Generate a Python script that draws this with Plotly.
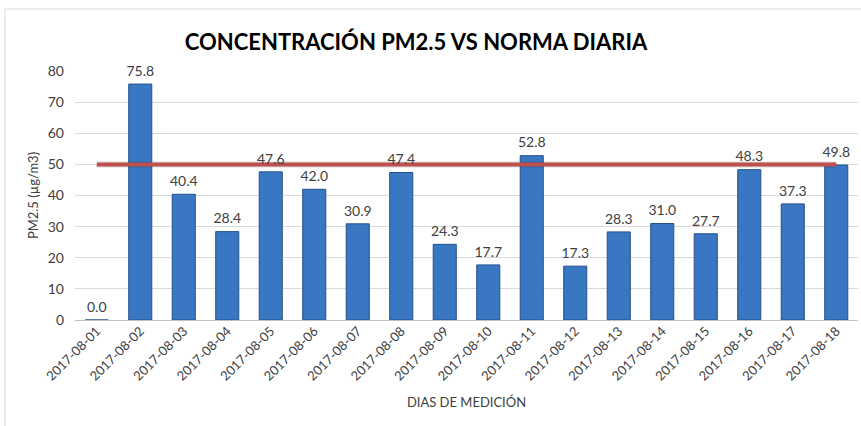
import plotly.graph_objects as go

dias = ["2017-08-01", "2017-08-02", "2017-08-03", "2017-08-04", "2017-08-05", "2017-08-06",
        "2017-08-07", "2017-08-08", "2017-08-09", "2017-08-10", "2017-08-11", "2017-08-12",
        "2017-08-13", "2017-08-14", "2017-08-15", "2017-08-16", "2017-08-17", "2017-08-18"]
pm25 = [0.0, 75.8, 40.4, 28.4, 47.6, 42.0, 30.9, 47.4, 24.3, 17.7, 52.8, 17.3,
        28.3, 31.0, 27.7, 48.3, 37.3, 49.8]
norma = [50] * len(dias)
y_ticks = [0, 10, 20, 30, 40, 50, 60, 70, 80]

FONT = "Lato, Open Sans, sans-serif"

fig = go.Figure()
fig.add_trace(go.Bar(
    x=dias, y=pm25,
    marker=dict(color="#3A77C3", line=dict(color="#23508C", width=1)),
    width=0.53, showlegend=False, hoverinfo="x+y",
))
# shadow of norm line
fig.add_trace(go.Scatter(
    x=dias, y=norma, mode="lines",
    line=dict(color="rgba(0,0,0,0.15)", width=6),
    hoverinfo="skip", showlegend=False,
))
fig.add_trace(go.Scatter(
    x=dias, y=norma, mode="lines",
    line=dict(color="#C0504D", width=4),
    showlegend=False, name="Norma",
))
# data labels on top
fig.add_trace(go.Scatter(
    x=dias, y=pm25, mode="markers+text",
    text=[f"{v:.1f}" for v in pm25], textposition="top center",
    marker=dict(size=6, opacity=0),
    textfont=dict(family=FONT, size=14, color="#404040"),
    cliponaxis=False, showlegend=False, hoverinfo="skip",
))

L, R, T, B = 75, 3, 71, 106
W, H = 861, 426
pw, ph = W - L - R, H - T - B
fig.add_shape(type="rect", xref="paper", yref="paper",
              x0=(5 - L) / pw, x1=(870 - L) / pw,
              y0=(H - B - 440) / ph, y1=(H - B - 9) / ph,
              line=dict(color="#D9D9D9", width=1), layer="below")

fig.update_layout(
    width=W, height=H,
    margin=dict(l=L, r=R, t=T, b=B),
    paper_bgcolor="white", plot_bgcolor="white",
    title=dict(text="<b>CONCENTRACIÓN PM2.5 VS NORMA DIARIA</b>",
               x=416 / W, xanchor="center", y=1 - 42 / H, yanchor="middle",
               font=dict(family=FONT, size=22, color="black")),
    font=dict(family=FONT, size=13, color="#404040"),
    xaxis=dict(type="category", tickangle=-45, showgrid=False, automargin=False,
               range=[-0.5, len(dias) - 0.5],
               tickfont=dict(size=13, color="#404040"),
               title=dict(text="DIAS DE MEDICIÓN", font=dict(size=13, color="#404040"), standoff=15),
               showline=False, ticks=""),
    yaxis=dict(range=[0, 80], tickvals=y_ticks, showgrid=True, gridcolor="#D9D9D9",
               automargin=False, ticklabelstandoff=10,
               zeroline=True, zerolinecolor="#BFBFBF", zerolinewidth=1,
               tickfont=dict(size=14, color="#404040"), ticks="", ticklen=0,
               title=dict(text="PM2.5 (µg/m3)", font=dict(size=13, color="#404040"), standoff=6)),
)

fig.write_html("out.html", config={"displayModeBar": False},
               post_script="document.body.style.margin='0';")
